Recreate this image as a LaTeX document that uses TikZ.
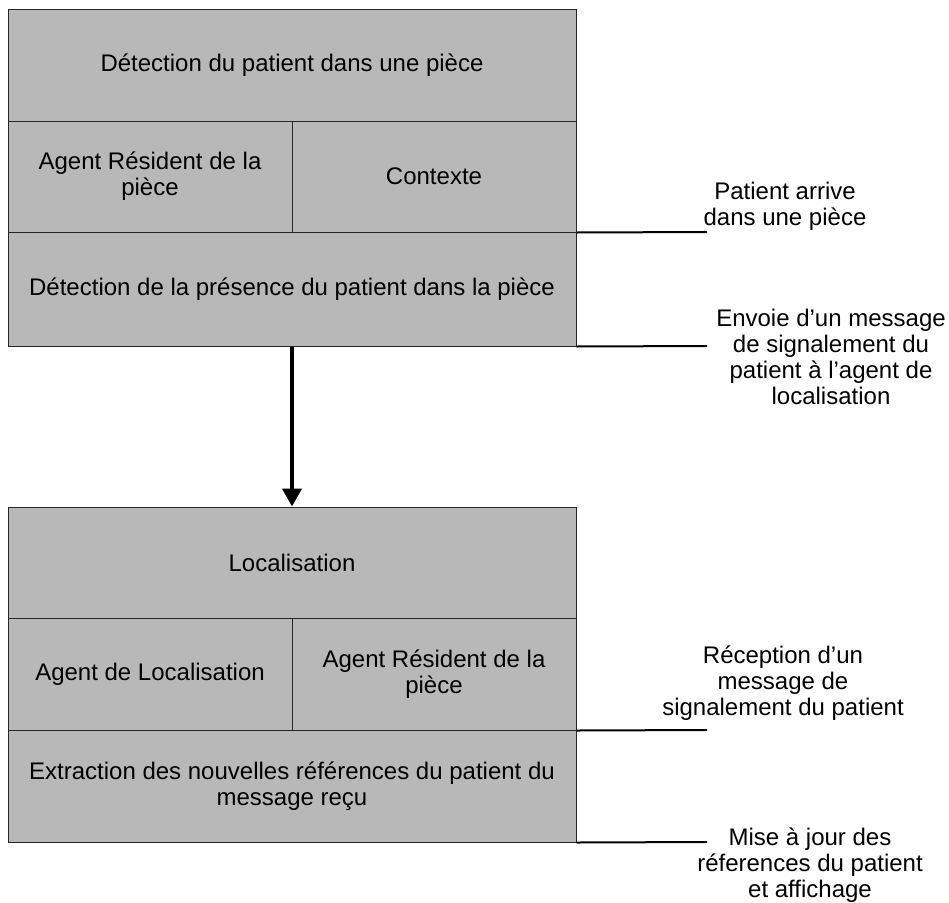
\documentclass[tikz,border=0pt]{standalone}
\usepackage{fontspec}
\setmainfont{Liberation Sans}
\usetikzlibrary{arrows.meta}
\begin{document}
\begin{tikzpicture}[x=1pt,y=-1pt,
  every node/.style={font=\fontsize{24}{26}\selectfont},
  cell/.style={draw=black!85, line width=1pt, fill=black!28, inner sep=0pt, align=center},
  wide/.style={cell, minimum width=568pt},
  half/.style={cell, minimum width=284pt},
  label/.style={align=center, inner sep=0pt},
  tick/.style={line width=2pt, black},
  flow/.style={line width=4pt, -{Triangle[width=19pt,length=18pt]}}]
  \fill[white] (0,0) rectangle (949,902);
  \useasboundingbox (0,0) rectangle (949,902);

  % first block: detection of the patient
  \node[wide, minimum height=112pt] (t1) at (292,65) {Détection du patient dans une pièce};
  \node[half, minimum height=111pt] (t2a) at (150,176.5) {Agent Résident de la\\pièce};
  \node[half, minimum height=111pt] (t2b) at (434,176.5) {Contexte};
  \node[wide, minimum height=114pt] (t3) at (292,289) {Détection de la présence du patient dans la pièce};

  % second block: localisation
  \node[wide, minimum height=111pt] (b1) at (292,562.5) {Localisation};
  \node[half, minimum height=112pt] (b2a) at (150,674) {Agent de Localisation};
  \node[half, minimum height=112pt] (b2b) at (434,674) {Agent Résident de la\\pièce};
  \node[wide, minimum height=112pt] (b3) at (292,786) {Extraction des nouvelles références du patient du\\message reçu};

  \draw[flow] (t3.south) -- (b1.north);

  % event markers on the right
  \coordinate (e1) at (707,232);
  \coordinate (e2) at (707,346);
  \coordinate (e3) at (707,730);
  \coordinate (e4) at (707,842);
  \draw[tick] (t2b.south east) -- (e1);
  \draw[tick] (t3.south east) -- (e2);
  \draw[tick] (b2b.south east) -- (e3);
  \draw[tick] (b3.south east) -- (e4);

  \node[label] (n1) at (785,206.5) {Patient arrive\\dans une pièce};
  \node[label] (n2) at (831,357) {Envoie d’un message\\de signalement du\\patient à l’agent de\\localisation};
  \node[label] (n3) at (783,683) {Réception d’un\\message de\\signalement du patient};
  \node[label] (n4) at (810,865) {Mise à jour des\\réferences du patient\\et affichage};
\end{tikzpicture}
\end{document}
